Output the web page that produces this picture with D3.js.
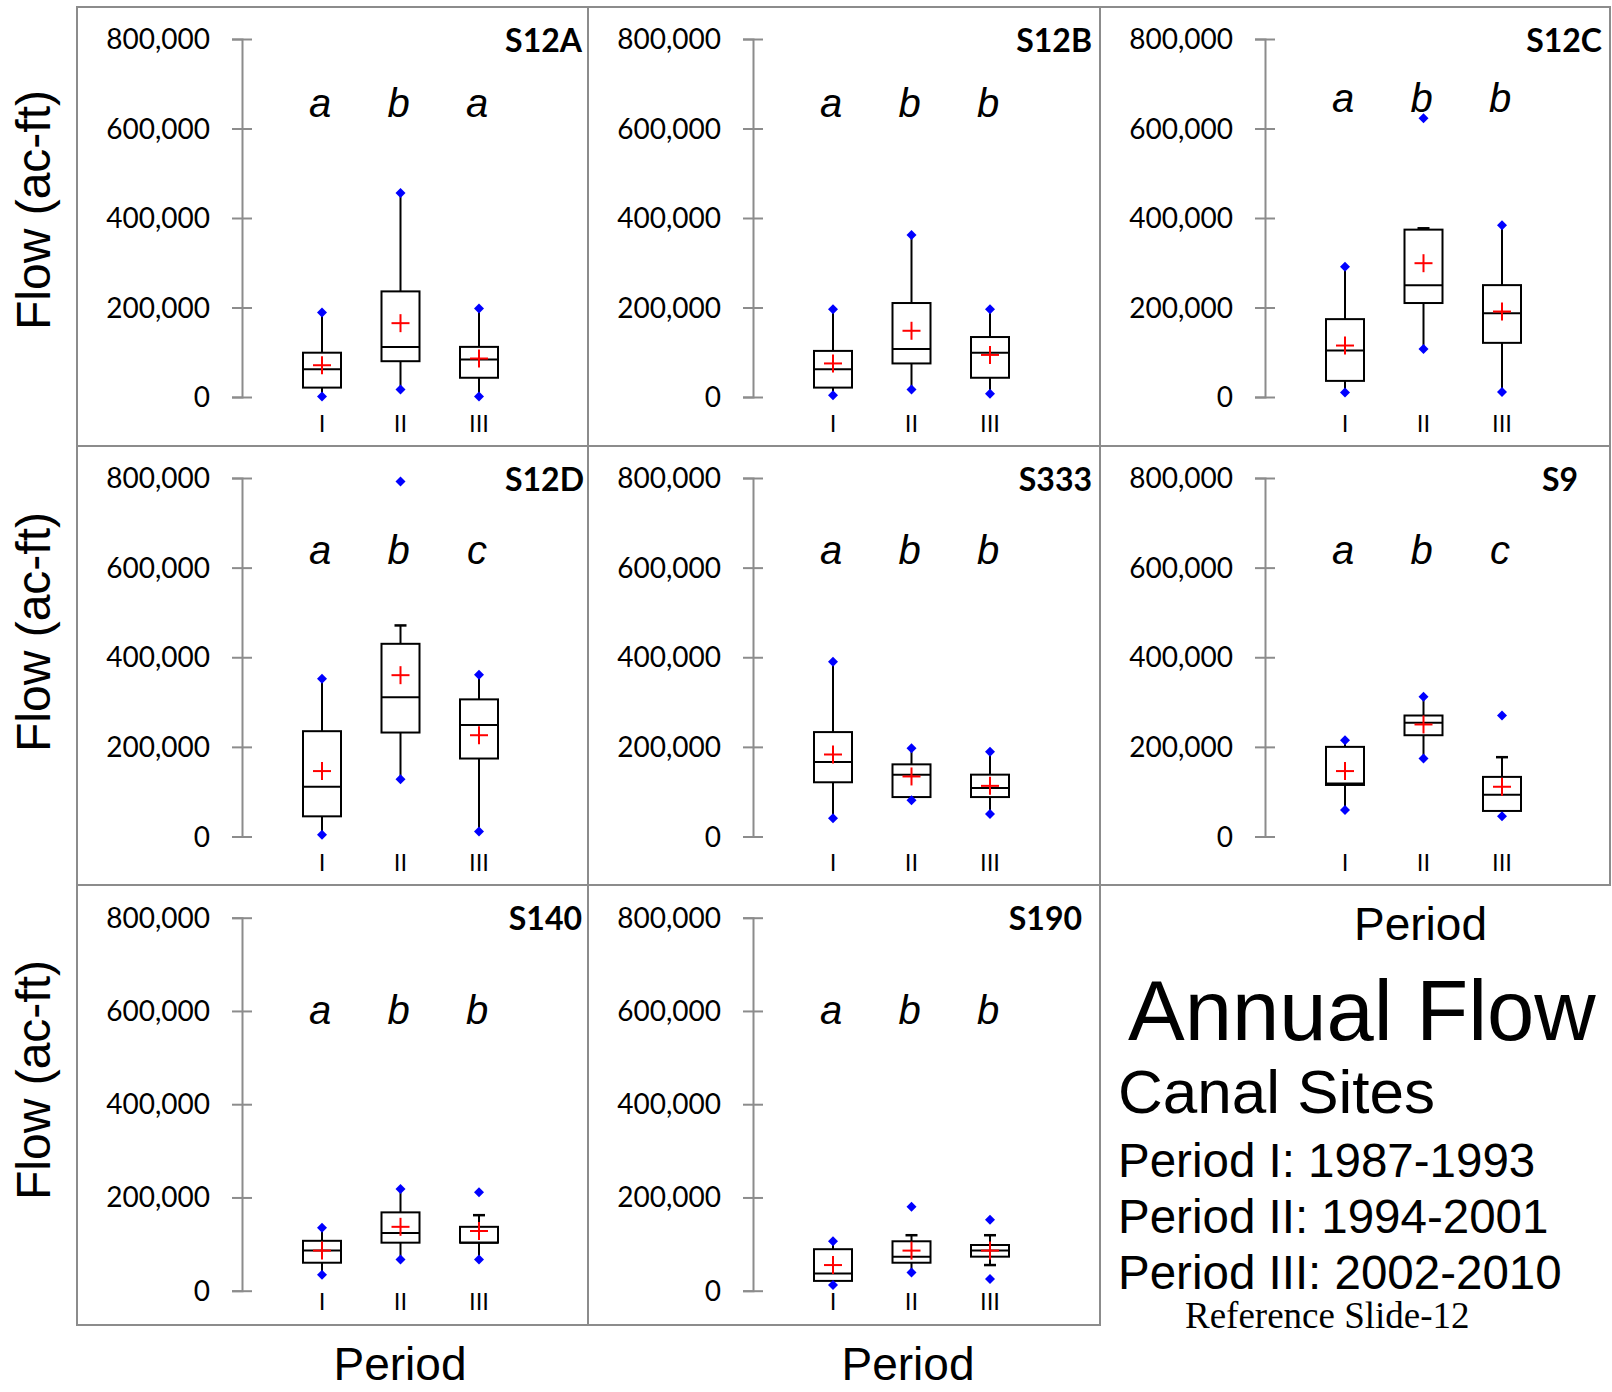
<!DOCTYPE html>
<html>
<head>
<meta charset="utf-8">
<script src="https://cdn.jsdelivr.net/npm/d3@7"></script>
<style>
  html, body { margin: 0; padding: 0; background: #fff; }
  svg { display: block; }
</style>
</head>
<body>
<svg id="chart" width="1612" height="1392"></svg>
<script>
// ---------------- DATA ----------------
const sites = ["S12A", "S12B", "S12C", "S12D", "S333", "S9", "S140", "S190"];
const periods = ["I", "II", "III"];
const tickValues = [0, 200000, 400000, 600000, 800000];
const groupLetters = [
  ["a", "b", "a"], ["a", "b", "b"], ["a", "b", "b"],
  ["a", "b", "c"], ["a", "b", "b"], ["a", "b", "c"],
  ["a", "b", "b"], ["a", "b", "b"]
];
// minimum observed (blue diamond)
const minVals = [
  [1000, 17000, 1000], [4000, 17000, 7000], [10000, 107000, 11000],
  [4000, 128000, 11000], [41000, 81000, 50000], [59000, 174000, 45000],
  [34000, 67000, 67000], [12000, 39000, 25000]
];
// lower whisker end
const whiskerLow = [
  [1000, 17000, 1000], [4000, 17000, 7000], [10000, 107000, 11000],
  [4000, 128000, 11000], [41000, 81000, 50000], [59000, 174000, 45000],
  [34000, 67000, 67000], [12000, 39000, 55000]
];
const q1Vals = [
  [21000, 80000, 43000], [21000, 75000, 43000], [36000, 210000, 121000],
  [45000, 232000, 174000], [121000, 88000, 88000], [115000, 226000, 57000],
  [60000, 103000, 103000], [21000, 60000, 73000]
];
const medianVals = [
  [62000, 112000, 84000], [62000, 107000, 99000], [104000, 250000, 187000],
  [111000, 311000, 249000], [166000, 138000, 108000], [118000, 254000, 93000],
  [86000, 124000, 103000], [37000, 73000, 86000]
];
const q3Vals = [
  [99000, 236000, 112000], [103000, 210000, 134000], [174000, 374000, 250000],
  [235000, 430000, 306000], [233000, 161000, 138000], [200000, 270000, 133000],
  [107000, 168000, 137000], [89000, 106000, 98000]
];
// upper whisker end
const whiskerHigh = [
  [189000, 456000, 198000], [196000, 362000, 196000], [291000, 377000, 384000],
  [352000, 471000, 361000], [390000, 197000, 189000], [215000, 312000, 177000],
  [135000, 218000, 162000], [106000, 119000, 119000]
];
// maximum observed (blue diamond)
const maxVals = [
  [189000, 456000, 198000], [196000, 362000, 196000], [291000, 623000, 384000],
  [352000, 792000, 361000], [390000, 197000, 189000], [215000, 312000, 270000],
  [135000, 218000, 211000], [106000, 180000, 152000]
];
// mean (red cross)
const meanVals = [
  [71000, 165000, 86000], [75000, 148000, 94000], [115000, 299000, 191000],
  [146000, 360000, 226000], [183000, 134000, 113000], [146000, 250000, 111000],
  [86000, 137000, 128000], [55000, 86000, 86000]
];

// ---------------- LAYOUT ----------------
const colX = [77, 588, 1100];
const colW = [511, 512, 510];
const rowY = [7, 446, 885];
const rowH = [439, 439, 440];
const axisOffset = 165;                 // y-axis x from panel left
const axisTop = [32, 32, 32.7];         // 800,000 tick offset per row
const axisZero = [390, 390.5, 405.7];   // 0 tick offset per row
const titleRight = [6, 8, 8, 4, 8, 32, 6, 18];
const letterBase = [110, 110, 105, 118, 118, 118, 139, 139];

const svg = d3.select("#chart");
const fmt = d3.format(",");
const gray = "#8c8c8c";
const SANS = "'Liberation Sans', Arial, sans-serif";
const CAL = "Lato, 'Open Sans', sans-serif";

sites.forEach((site, i) => {
  const r = Math.floor(i / 3), c = i % 3;
  const px = colX[c], py = rowY[r], pw = colW[c], ph = rowH[r];
  const g = svg.append("g");

  // panel border
  g.append("rect").attr("x", px).attr("y", py).attr("width", pw).attr("height", ph)
    .attr("fill", "none").attr("stroke", gray).attr("stroke-width", 2);

  const ax = px + axisOffset;
  const y = d3.scaleLinear().domain([0, 800000]).range([py + axisZero[r], py + axisTop[r]]);
  const x = d3.scalePoint().domain(periods).range([ax + 80, ax + 237]);

  // y axis
  const axisG = g.append("g").attr("transform", `translate(${ax},0)`)
    .call(d3.axisLeft(y).tickValues(tickValues).tickFormat(fmt).tickSizeOuter(0).tickSize(10));
  axisG.select(".domain").attr("stroke", gray).attr("stroke-width", 2);
  axisG.selectAll(".tick line").attr("x1", -10).attr("x2", 10).attr("stroke", gray).attr("stroke-width", 2);
  axisG.selectAll(".tick text").attr("x", -32).attr("dy", "0.34em")
    .attr("font-family", CAL).attr("font-size", 28).attr("fill", "#000");

  // title
  g.append("text").attr("x", px + pw - titleRight[i]).attr("y", py + 45)
    .attr("text-anchor", "end").attr("font-family", CAL).attr("font-weight", "bold")
    .attr("font-size", 32).attr("fill", "#000").text(site);

  // category labels
  periods.forEach((p, j) => {
    g.append("text").attr("x", x(p)).attr("y", py + 425).attr("text-anchor", "middle")
      .attr("font-family", SANS).attr("font-size", 24).attr("fill", "#000").text(p);
    g.append("text").attr("x", x(p) - 2).attr("y", py + letterBase[i]).attr("text-anchor", "middle")
      .attr("font-family", SANS).attr("font-style", "italic").attr("font-size", 40)
      .attr("fill", "#000").text(groupLetters[i][j]);
  });

  // boxes
  const bw = 38, capW = 12;
  periods.forEach((p, j) => {
    const cx = x(p);
    const wl = whiskerLow[i][j], wh = whiskerHigh[i][j];
    const q1 = q1Vals[i][j], q3 = q3Vals[i][j], md = medianVals[i][j];
    // whiskers
    g.append("line").attr("x1", cx).attr("x2", cx).attr("y1", y(q3)).attr("y2", y(wh))
      .attr("stroke", "#000").attr("stroke-width", 2);
    g.append("line").attr("x1", cx).attr("x2", cx).attr("y1", y(q1)).attr("y2", y(wl))
      .attr("stroke", "#000").attr("stroke-width", 2);
    // caps (only visible where whisker end differs from extreme)
    if (wh !== maxVals[i][j]) {
      g.append("line").attr("x1", cx - capW / 2).attr("x2", cx + capW / 2)
        .attr("y1", y(wh)).attr("y2", y(wh)).attr("stroke", "#000").attr("stroke-width", 2.5);
    }
    if (wl !== minVals[i][j]) {
      g.append("line").attr("x1", cx - capW / 2).attr("x2", cx + capW / 2)
        .attr("y1", y(wl)).attr("y2", y(wl)).attr("stroke", "#000").attr("stroke-width", 2.5);
    }
    // box
    g.append("rect").attr("x", cx - bw / 2).attr("y", y(q3)).attr("width", bw)
      .attr("height", y(q1) - y(q3)).attr("fill", "#fff").attr("stroke", "#000").attr("stroke-width", 2);
    // median
    g.append("line").attr("x1", cx - bw / 2).attr("x2", cx + bw / 2)
      .attr("y1", y(md)).attr("y2", y(md)).attr("stroke", "#000").attr("stroke-width", 2);
    // mean cross
    const my = y(meanVals[i][j]);
    g.append("line").attr("x1", cx - 9).attr("x2", cx + 9).attr("y1", my).attr("y2", my)
      .attr("stroke", "#ff0000").attr("stroke-width", 2);
    g.append("line").attr("x1", cx).attr("x2", cx).attr("y1", my - 9).attr("y2", my + 9)
      .attr("stroke", "#ff0000").attr("stroke-width", 2);
    // min / max diamonds
    [minVals[i][j], maxVals[i][j]].forEach(v => {
      g.append("path").attr("d", d3.symbol(d3.symbolSquare, 50)())
        .attr("transform", `translate(${cx},${y(v)}) rotate(45)`)
        .attr("fill", "#0000ff");
    });
  });
});

// y-axis titles
const yTitleCenters = [210, 632, 1080];
yTitleCenters.forEach(cy => {
  svg.append("text").attr("transform", `translate(50,${cy}) rotate(-90)`)
    .attr("text-anchor", "middle").attr("font-family", SANS).attr("font-size", 48)
    .attr("fill", "#000").text("Flow (ac-ft)");
});

// x-axis titles
[[400, 1380, "middle"], [908, 1380, "middle"], [1354, 940, "start"]].forEach(([tx, ty, an]) => {
  svg.append("text").attr("x", tx).attr("y", ty).attr("text-anchor", an)
    .attr("font-family", SANS).attr("font-size", 46).attr("fill", "#000").text("Period");
});

// legend / title block
svg.append("text").attr("x", 1128).attr("y", 1040).attr("font-family", SANS)
  .attr("font-size", 85).attr("fill", "#000").text("Annual Flow");
svg.append("text").attr("x", 1118).attr("y", 1113).attr("font-family", SANS)
  .attr("font-size", 62).attr("fill", "#000").text("Canal Sites");
const periodLines = ["Period I: 1987-1993", "Period II: 1994-2001", "Period III: 2002-2010"];
const periodBase = [1177, 1233, 1289];
periodLines.forEach((t, k) => {
  svg.append("text").attr("x", 1118).attr("y", periodBase[k]).attr("font-family", SANS)
    .attr("font-size", 47.5).attr("fill", "#000").text(t);
});
svg.append("text").attr("x", 1185).attr("y", 1328)
  .attr("font-family", "'Liberation Serif', 'Times New Roman', serif")
  .attr("font-size", 37).attr("fill", "#000").text("Reference Slide-12");
</script>
</body>
</html>
